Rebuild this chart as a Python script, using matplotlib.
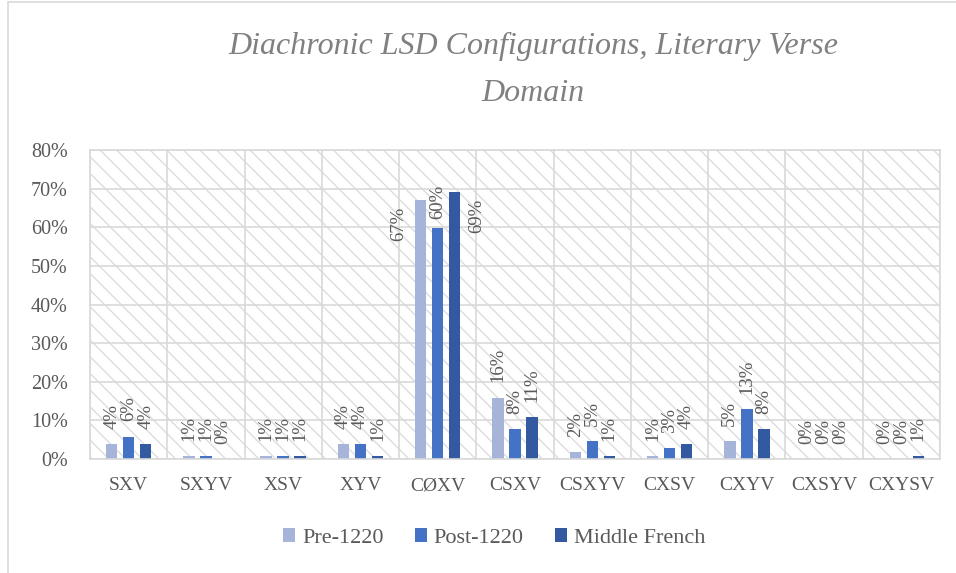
import matplotlib
matplotlib.use("Agg")
import matplotlib.pyplot as plt
from matplotlib.patches import Rectangle
from matplotlib.ticker import PercentFormatter, FixedLocator
import numpy as np

categories = ["SXV", "SXYV", "XSV", "XYV", "CØXV", "CSXV", "CSXYV", "CXSV", "CXYV", "CXSYV", "CXYSV"]
series_names = ["Pre-1220", "Post-1220", "Middle French"]
pre_1220 = [0.038, 0.008, 0.008, 0.038, 0.671, 0.159, 0.017, 0.008, 0.047, 0.0, 0.0]
post_1220 = [0.058, 0.008, 0.008, 0.038, 0.599, 0.077, 0.047, 0.028, 0.129, 0.0, 0.0]
middle_french = [0.038, 0.0, 0.008, 0.008, 0.691, 0.109, 0.008, 0.038, 0.077, 0.0, 0.008]
y_ticks = [0, 0.1, 0.2, 0.3, 0.4, 0.5, 0.6, 0.7, 0.8]

colors = ["#A6B4DA", "#4472C4", "#335AA0"]
text_color = "#595959"
grid_color = "#D9D9D9"

plt.rcParams["font.family"] = ["Liberation Serif", "DejaVu Serif"]
plt.rcParams["hatch.linewidth"] = 1.0

fig = plt.figure(figsize=(9.56, 5.73), dpi=100)
ax = fig.add_axes([90 / 956, 1 - 459 / 573, 850 / 956, 309 / 573])

# hatched plot-area background
bg = Rectangle((0, 0), 1, 1, transform=ax.transAxes, facecolor="white",
               edgecolor="#DCDCDC", hatch="\\\\", linewidth=0, zorder=0.1)
ax.add_patch(bg)

x = np.arange(len(categories))
pitch = 0.22
width = 0.149
all_series = [pre_1220, post_1220, middle_french]

# label placement overrides (dx, dy in points, va)
overrides = {(4, 0): (-16, -5, "top"), (4, 1): (0, 6, "bottom"), (4, 2): (16, -5, "top")}

for s, (vals, col, name) in enumerate(zip(all_series, colors, series_names)):
    xs = x + (s - 1) * pitch
    ax.bar(xs, vals, width=width, color=col, label=name, zorder=2)
    for i, (xi, v) in enumerate(zip(xs, vals)):
        dx, dy, va = overrides.get((i, s), (0, 11, "bottom"))
        ax.annotate(f"{round(v * 100):.0f}%", (xi, v), xytext=(dx, dy),
                    textcoords="offset points", rotation=90, ha="center", va=va,
                    fontsize=13.5, color=text_color, zorder=3)

ax.set_xlim(-0.5, len(categories) - 0.5)
ax.set_ylim(0, 0.8)
ax.set_yticks(y_ticks)
ax.yaxis.set_major_formatter(PercentFormatter(1.0, decimals=0))
ax.set_xticks(x)
ax.set_xticklabels(categories)
ax.xaxis.set_minor_locator(FixedLocator(np.arange(-0.5, len(categories), 1.0)))
ax.tick_params(axis="both", which="both", length=0, colors=text_color, labelsize=14)
ax.tick_params(axis="y", pad=16, labelsize=14.5)
ax.tick_params(axis="x", pad=13)
ax.set_axisbelow(True)
ax.grid(axis="y", which="major", color=grid_color, linewidth=1.2, zorder=0.5)
ax.grid(axis="x", which="minor", color=grid_color, linewidth=1.2, zorder=0.5)
ax.grid(axis="x", which="major", visible=False)
for sp in ax.spines.values():
    sp.set_color(grid_color)
    sp.set_linewidth(1.2)

fig.text(533 / 956, 1 - 70 / 573, "Diachronic LSD Configurations, Literary Verse\nDomain",
         ha="center", va="center", fontsize=23, style="italic", color="#808080",
         linespacing=1.8)

leg = fig.legend(loc="center", bbox_to_anchor=(494 / 956, 1 - 538 / 573), ncol=3,
                 frameon=False, fontsize=16, handlelength=0.55, handleheight=0.55,
                 handletextpad=0.3, columnspacing=1.4)
for t in leg.get_texts():
    t.set_color(text_color)

# chart border
fig.patches.append(Rectangle((8 / 956, -0.1), 1.2, 1.1 - 2 / 573, transform=fig.transFigure,
                             fill=False, edgecolor=grid_color, linewidth=1.2))

fig.savefig("out.png", dpi=100)
